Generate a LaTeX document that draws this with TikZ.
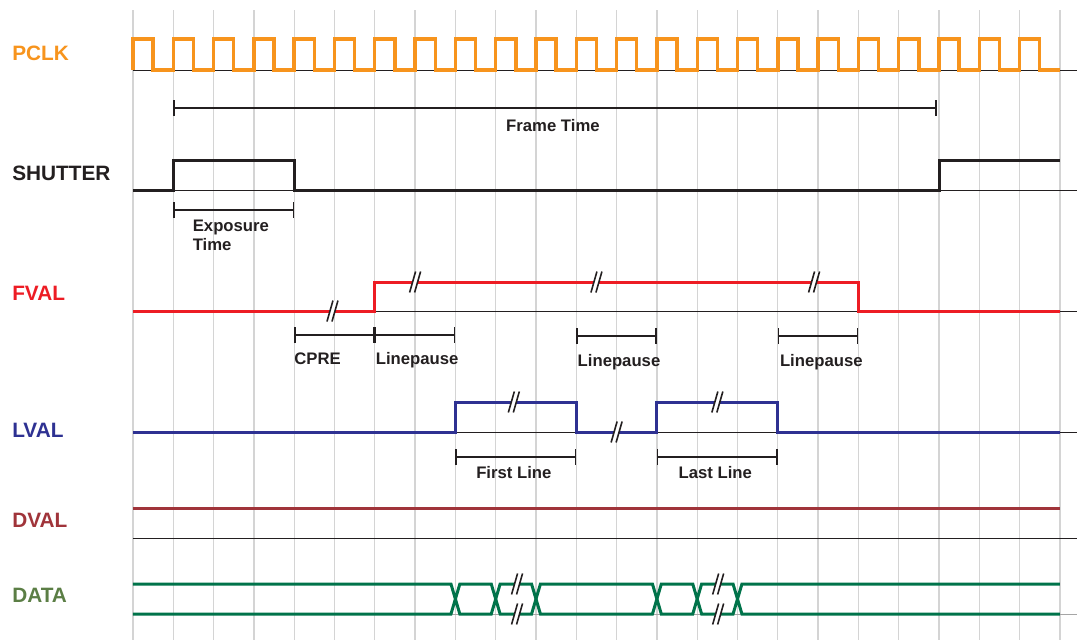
\documentclass[tikz,border=0pt]{standalone}
\usepackage{fontspec}
\setmainfont{Liberation Sans}
\usetikzlibrary{arrows.meta, positioning, calc}
\definecolor{mOrange}{HTML}{F7941D}
\definecolor{mRed}{HTML}{ED1C24}
\definecolor{mNavy}{HTML}{2E3192}
\definecolor{mWine}{HTML}{A0343A}
\definecolor{mGreen}{HTML}{00734A}
\definecolor{mOlive}{HTML}{5B7E45}
\definecolor{mInk}{HTML}{231F20}
\definecolor{mGrid}{HTML}{D4D4D4}

\begin{document}
\begin{tikzpicture}[x=40.3pt, y=-1pt,
    sig/.style={line width=3pt, line join=miter},
    zero/.style={mInk, line width=0.9pt},
    signame/.style={anchor=west, inner sep=0pt, font=\fontsize{20.8}{24}\selectfont\bfseries},
    note/.style={inner sep=0pt, text=mInk, font=\fontsize{16.7}{18.5}\selectfont\bfseries},
    span/.style={mInk, line width=1.1pt, {Bar[width=16pt,line width=1.5pt]}-{Bar[width=16pt,line width=1.5pt]}},
    gapmark/.pic={
      \fill[white] (-5.5pt,-10.5pt) -- (0.5pt,10.5pt) -- (5.5pt,10.5pt) -- (-0.5pt,-10.5pt) -- cycle;
      \draw[mInk, line width=1.6pt] (-5.5pt,-10.5pt) -- (0.5pt,10.5pt) (-0.5pt,-10.5pt) -- (5.5pt,10.5pt);
    }]
    \useasboundingbox (-3.3,0) rectangle (23.4243,640);

    % clock grid
    \foreach \k in {0,...,23}
      \draw[mGrid, line width=1.3pt] (\k,10) -- (\k,640);

    % zero lines
    \foreach \y in {70,190,311,432,538}
      \draw[zero] (0,\y) -- (23.43,\y);
    \draw[zero, gray!70] (0,614) -- (23.43,614);

    % signal names
    \node[signame, mOrange] (pclk) at (-3,53.8) {PCLK};
    \node[signame, mInk] (shutter) at (-3,172.9) {SHUTTER};
    \node[signame, mRed] (fval) at (-3,293.5) {FVAL};
    \node[signame, mNavy] (lval) at (-3,430) {LVAL};
    \node[signame, mWine] (dval) at (-3,520.8) {DVAL};
    \node[signame, mOlive] (data) at (-3,595.8) {DATA};

    % waveforms
    \draw[sig, mOrange, line width=3.4pt] (0,70)
      \foreach \k in {0,...,22} { -- (\k,39) -- ({\k+0.5},39) -- ({\k+0.5},70) -- ({\k+1},70) };
    \draw[sig, mInk] (0,190) -- (1,190) -- (1,160) -- (4,160) -- (4,190) -- (20,190) -- (20,160) -- (23,160);
    \draw[sig, mRed] (0,311) -- (6,311) -- (6,282) -- (18,282) -- (18,311) -- (23,311);
    \draw[sig, mNavy] (0,432) -- (8,432) -- (8,402) -- (11,402) -- (11,432) -- (13,432)
      -- (13,402) -- (16,402) -- (16,432) -- (23,432);
    \draw[sig, mWine] (0,508) -- (23,508);
    \draw[sig, mGreen] (0,584)
      \foreach \c in {8,9,10,13,14,15} { -- ({\c-0.11},584) -- (\c,599) -- ({\c+0.11},584) } -- (23,584);
    \draw[sig, mGreen] (0,614)
      \foreach \c in {8,9,10,13,14,15} { -- ({\c-0.11},614) -- (\c,599) -- ({\c+0.11},614) } -- (23,614);

    % breaks
    \foreach \gx/\gy in {4.95/311, 7/282, 11.5/282, 16.9/282, 9.45/402, 12/432, 14.5/402,
                         9.53/584, 9.53/614, 14.52/584, 14.52/614}
      \pic at (\gx,\gy) {gapmark};

    % timings
    \coordinate (ftL) at (1,108);
    \coordinate (ftR) at (19.95,108);
    \draw[span] (ftL) -- (ftR);
    \node[note, anchor=base] (frametime) at (10.42,131.5) {Frame Time};

    \coordinate (exL) at (1,210);
    \coordinate (exR) at (4,210);
    \draw[span] (exL) -- (exR);
    \node[note, anchor=north west, align=left] (exposure) at (1.48,220) {Exposure\\Time};

    \coordinate (cpL) at (4,335);
    \coordinate (cpR) at (6,335);
    \draw[span] (cpL) -- (cpR);
    \node[note, anchor=base west] (cpre) at (4,364) {CPRE};

    \coordinate (lpaL) at (6,335);
    \coordinate (lpaR) at (8,335);
    \draw[span] (lpaL) -- (lpaR);
    \node[note, anchor=base west] (lpa) at (6.02,364) {Linepause};

    \coordinate (lpbL) at (11,336);
    \coordinate (lpbR) at (13,336);
    \draw[span] (lpbL) -- (lpbR);
    \node[note, anchor=base west] (lpb) at (11.03,366) {Linepause};

    \coordinate (lpcL) at (16,336);
    \coordinate (lpcR) at (18,336);
    \draw[span] (lpcL) -- (lpcR);
    \node[note, anchor=base west] (lpc) at (16.05,366) {Linepause};

    \coordinate (flL) at (8,457);
    \coordinate (flR) at (11,457);
    \draw[span] (flL) -- (flR);
    \node[note, anchor=base] (firstline) at (9.45,478) {First Line};

    \coordinate (llL) at (13,457);
    \coordinate (llR) at (16,457);
    \draw[span] (llL) -- (llR);
    \node[note, anchor=base] (lastline) at (14.45,478) {Last Line};
  \end{tikzpicture}
\end{document}
